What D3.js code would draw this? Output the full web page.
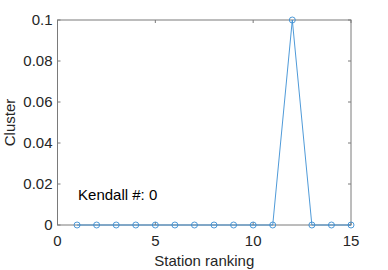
<!DOCTYPE html>
<html lang="en">
<head>
<meta charset="UTF-8">
<style>
    body { margin: 0; background: #fff; }
    svg { font-family: "Liberation Sans", Arial, sans-serif; }
</style>
<script src="https://d3js.org/d3.v7.min.js"></script>
</head>
<body>
<svg id="chart" width="388" height="270"></svg>
<script>
    // station ranking vs cluster value
    const ranks = [1, 2, 3, 4, 5, 6, 7, 8, 9, 10, 11, 12, 13, 14, 15];
    const cluster = [0, 0, 0, 0, 0, 0, 0, 0, 0, 0, 0, 0.1, 0, 0, 0];
    const xTicks = [0, 5, 10, 15];
    const yTicks = [0, 0.02, 0.04, 0.06, 0.08, 0.1];
    const note = "Kendall #: 0";

    const svg = d3.select("#chart");
    const mLeft = 57.5, mRight = 351, mTop = 20, mBottom = 225;
    const axisColor = "#7a7a7a";
    const lineColor = "#3b8fd4";

    const x = d3.scaleLinear().domain([0, 15]).range([mLeft, mRight]);
    const y = d3.scaleLinear().domain([0, 0.1]).range([mBottom, mTop]);

    // box
    svg.append("rect")
        .attr("x", mLeft).attr("y", mTop)
        .attr("width", mRight - mLeft).attr("height", mBottom - mTop)
        .attr("fill", "none").attr("stroke", axisColor).attr("stroke-width", 1);

    // ticks (inward, both sides like matlab box on)
    const tl = 3;
    xTicks.forEach(t => {
        svg.append("line").attr("x1", x(t)).attr("x2", x(t)).attr("y1", mBottom).attr("y2", mBottom - tl)
            .attr("stroke", axisColor);
        svg.append("line").attr("x1", x(t)).attr("x2", x(t)).attr("y1", mTop).attr("y2", mTop + tl)
            .attr("stroke", axisColor);
        svg.append("text").attr("x", x(t)).attr("y", mBottom + 20.5)
            .attr("text-anchor", "middle").attr("font-size", "15px").attr("fill", "#262626")
            .text(d3.format("d")(t));
    });
    yTicks.forEach(t => {
        svg.append("line").attr("x1", mLeft).attr("x2", mLeft + tl).attr("y1", y(t)).attr("y2", y(t))
            .attr("stroke", axisColor);
        svg.append("line").attr("x1", mRight).attr("x2", mRight - tl).attr("y1", y(t)).attr("y2", y(t))
            .attr("stroke", axisColor);
        svg.append("text").attr("x", mLeft - 5).attr("y", y(t) + 5.3)
            .attr("text-anchor", "end").attr("font-size", "15px").attr("fill", "#262626")
            .text(t === 0 ? "0" : d3.format("~g")(t));
    });

    // axis titles
    svg.append("text").attr("x", (mLeft + mRight) / 2).attr("y", 266)
        .attr("text-anchor", "middle").attr("font-size", "15px").attr("fill", "#262626")
        .text("Station ranking");
    svg.append("text").attr("transform", "translate(15," + ((mTop + mBottom) / 2) + ") rotate(-90)")
        .attr("text-anchor", "middle").attr("font-size", "15px").attr("fill", "#262626")
        .text("Cluster");

    // data line + markers
    const pts = ranks.map((r, i) => ({ r: r, v: cluster[i] }));
    const line = d3.line().x(d => x(d.r)).y(d => y(d.v));
    svg.append("path").datum(pts).attr("d", line)
        .attr("fill", "none").attr("stroke", lineColor).attr("stroke-width", 0.9);
    svg.selectAll("circle.m").data(pts).enter().append("circle")
        .attr("class", "m")
        .attr("cx", d => x(d.r)).attr("cy", d => y(d.v)).attr("r", 3)
        .attr("fill", "none").attr("stroke", lineColor).attr("stroke-width", 0.9);

    // annotation
    svg.append("text").attr("x", x(1.05)).attr("y", y(0.0122))
        .attr("font-size", "15px").attr("fill", "#000")
        .text(note);
</script>
</body>
</html>
